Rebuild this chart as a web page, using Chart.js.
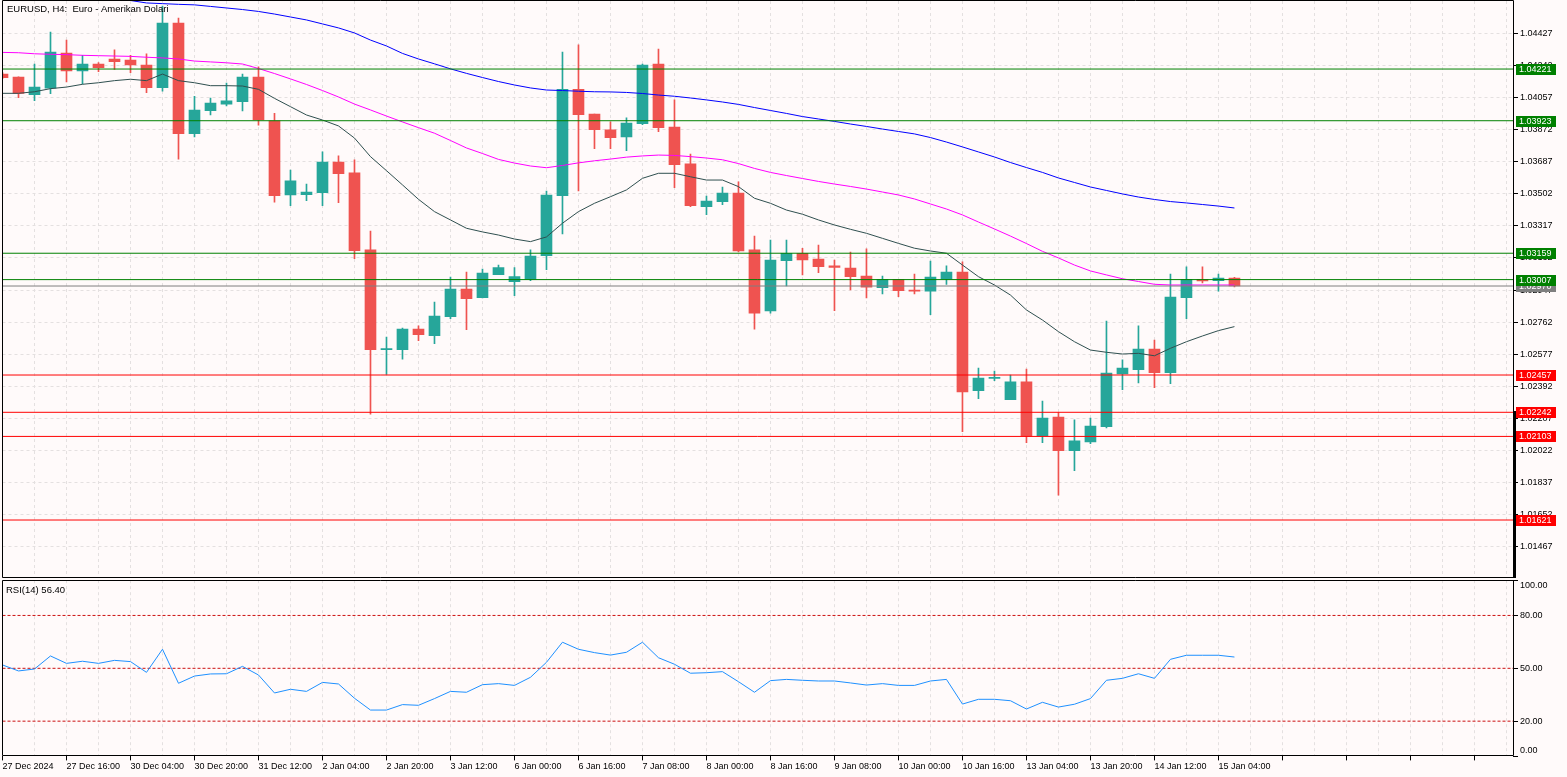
<!DOCTYPE html>
<html><head><meta charset="utf-8">
<script src="https://cdn.jsdelivr.net/npm/chart.js@4.4.1/dist/chart.umd.min.js"></script>
<style>
html,body{margin:0;padding:0;background:#fffafa;width:1567px;height:777px;overflow:hidden}
canvas{position:absolute;left:0}
#c1{top:0}
#c2{top:579px}
</style></head><body>
<canvas id="c1" width="1567" height="579"></canvas>
<canvas id="c2" width="1567" height="198"></canvas>
<script>
// ---------- DATA ----------
const chartTitle = 'EURUSD, H4:  Euro - Amerikan Dolari';
const rsiTitle = 'RSI(14) 56.40';
const xLabels = ['27 Dec 2024','27 Dec 16:00','30 Dec 04:00','30 Dec 20:00','31 Dec 12:00','2 Jan 04:00','2 Jan 20:00','3 Jan 12:00','6 Jan 00:00','6 Jan 16:00','7 Jan 08:00','8 Jan 00:00','8 Jan 16:00','9 Jan 08:00','10 Jan 00:00','10 Jan 16:00','13 Jan 04:00','13 Jan 20:00','14 Jan 12:00','15 Jan 04:00'];
const opens = [1.04192,1.04175,1.04073,1.04110,1.04313,1.04210,1.04250,1.04279,1.04273,1.04244,
 1.04113,1.04486,1.03848,1.03981,1.04019,1.04033,1.04175,1.03923,1.03495,1.03497,
 1.03508,1.03685,1.03622,1.03178,1.02603,1.02603,1.02722,1.02684,1.02793,1.02953,
 1.02903,1.03035,1.02995,1.03009,1.03145,1.03491,1.04104,1.03962,1.03870,1.03829,
 1.03906,1.04250,1.03887,1.03674,1.03427,1.03456,1.03506,1.03178,1.02826,1.03116,
 1.03159,1.03126,1.03087,1.03074,1.03028,1.02960,1.03009,1.02947,1.02941,1.03009,
 1.03051,1.02367,1.02438,1.02315,1.02417,1.02106,1.02215,1.02021,1.02071,1.02159,
 1.02463,1.02488,1.02607,1.02470,1.02903,1.03009,1.03001,1.03016];
const highs = [1.04200,1.04176,1.04250,1.04434,1.04388,1.04300,1.04258,1.04331,1.04300,1.04308,
 1.04584,1.04515,1.04064,1.04054,1.04140,1.04192,1.04234,1.03966,1.03639,1.03558,
 1.03743,1.03720,1.03697,1.03287,1.02676,1.02728,1.02740,1.02878,1.03022,1.03051,
 1.03068,1.03091,1.03076,1.03178,1.03518,1.04319,1.04360,1.03962,1.03917,1.03939,
 1.04250,1.04336,1.04043,1.03731,1.03489,1.03541,1.03570,1.03258,1.03235,1.03235,
 1.03188,1.03206,1.03120,1.03166,1.03184,1.03028,1.03009,1.03039,1.03114,1.03086,
 1.03109,1.02497,1.02480,1.02457,1.02491,1.02307,1.02240,1.02198,1.02209,1.02768,
 1.02545,1.02740,1.02659,1.03039,1.03080,1.03080,1.03039,1.03020];
const lows = [1.04165,1.04056,1.04038,1.04079,1.04146,1.04135,1.04206,1.04219,1.04200,1.04085,
 1.04094,1.03702,1.03829,1.03956,1.04008,1.03979,1.03898,1.03454,1.03433,1.03462,
 1.03433,1.03450,1.03128,1.02231,1.02461,1.02549,1.02655,1.02638,1.02782,1.02718,
 1.02901,1.03035,1.02914,1.03001,1.03064,1.03270,1.03518,1.03762,1.03762,1.03750,
 1.03900,1.03860,1.03537,1.03427,1.03381,1.03439,1.03166,1.02722,1.02814,1.02970,
 1.03034,1.03047,1.02828,1.02947,1.02901,1.02924,1.02909,1.02924,1.02805,1.02980,
 1.02130,1.02320,1.02424,1.02315,1.02067,1.02067,1.01765,1.01905,1.02061,1.02152,
 1.02372,1.02411,1.02384,1.02407,1.02782,1.02988,1.02941,1.02965];
const closes = [1.04171,1.04081,1.04117,1.04319,1.04210,1.04250,1.04229,1.04263,1.04244,1.04113,
 1.04486,1.03848,1.03985,1.04025,1.04037,1.04175,1.03927,1.03491,1.03576,1.03512,
 1.03685,1.03618,1.03174,1.02603,1.02607,1.02722,1.02689,1.02797,1.02953,1.02897,
 1.03045,1.03076,1.03024,1.03143,1.03495,1.04104,1.03958,1.03871,1.03825,1.03910,
 1.04244,1.03883,1.03670,1.03433,1.03460,1.03506,1.03172,1.02814,1.03120,1.03159,
 1.03120,1.03081,1.03078,1.03024,1.02964,1.03009,1.02943,1.02941,1.03022,1.03051,
 1.02359,1.02440,1.02442,1.02417,1.02104,1.02209,1.02021,1.02077,1.02163,1.02468,
 1.02497,1.02607,1.02470,1.02907,1.03009,1.02999,1.03016,1.02970];
const maFast = [1.04081,1.04081,1.04090,1.04108,1.04117,1.04133,1.04142,1.04154,1.04162,1.04154,
 1.04192,1.04154,1.04142,1.04125,1.04125,1.04123,1.04104,1.04052,1.04004,1.03956,
 1.03927,1.03893,1.03823,1.03716,1.03635,1.03553,1.03470,1.03399,1.03351,1.03303,
 1.03282,1.03264,1.03241,1.03226,1.03253,1.03332,1.03399,1.03447,1.03485,1.03524,
 1.03591,1.03620,1.03620,1.03600,1.03581,1.03581,1.03543,1.03476,1.03447,1.03408,
 1.03384,1.03351,1.03322,1.03297,1.03274,1.03245,1.03216,1.03188,1.03172,1.03159,
 1.03091,1.03024,1.02976,1.02918,1.02832,1.02774,1.02707,1.02649,1.02601,1.02588,
 1.02578,1.02582,1.02568,1.02611,1.02649,1.02682,1.02713,1.02736];
const maMid = [1.04317,1.04315,1.04309,1.04306,1.04304,1.04300,1.04298,1.04296,1.04294,1.04289,
 1.04285,1.04279,1.04267,1.04262,1.04257,1.04250,1.04224,1.04195,1.04164,1.04132,
 1.04097,1.04060,1.04019,1.03985,1.03950,1.03916,1.03883,1.03851,1.03809,1.03766,
 1.03734,1.03700,1.03679,1.03662,1.03652,1.03665,1.03680,1.03692,1.03702,1.03713,
 1.03720,1.03725,1.03723,1.03716,1.03708,1.03698,1.03676,1.03648,1.03625,1.03607,
 1.03590,1.03573,1.03558,1.03544,1.03529,1.03512,1.03495,1.03472,1.03443,1.03414,
 1.03380,1.03339,1.03299,1.03258,1.03215,1.03170,1.03132,1.03091,1.03057,1.03034,
 1.03012,1.02996,1.02980,1.02976,1.02976,1.02976,1.02976,1.02976];
const maSlow = [1.04792,1.04769,1.04746,1.04723,1.04703,1.04682,1.04662,1.04639,1.04616,1.04602,
 1.04598,1.04594,1.04591,1.04582,1.04573,1.04564,1.04553,1.04538,1.04521,1.04504,
 1.04481,1.04458,1.04429,1.04388,1.04354,1.04311,1.04279,1.04251,1.04222,1.04196,
 1.04172,1.04149,1.04129,1.04112,1.04100,1.04097,1.04093,1.04090,1.04089,1.04086,
 1.04080,1.04071,1.04064,1.04054,1.04043,1.04031,1.04017,1.03999,1.03982,1.03965,
 1.03947,1.03933,1.03919,1.03904,1.03890,1.03875,1.03861,1.03847,1.03826,1.03800,
 1.03772,1.03743,1.03714,1.03682,1.03653,1.03625,1.03593,1.03567,1.03541,1.03521,
 1.03501,1.03483,1.03469,1.03457,1.03449,1.03440,1.03431,1.03420];
const rsiValues = [51.9,48.5,49.6,57.0,52.8,54.0,52.8,54.5,53.8,47.7,
 60.8,41.5,45.6,46.8,46.9,51.1,46.2,36.0,38.1,36.9,
 42.0,41.1,33.0,26.3,26.3,29.4,29.0,32.8,36.9,36.4,
 40.7,41.3,40.3,44.9,53.4,64.8,60.8,58.9,57.5,59.1,
 64.8,56.0,52.3,47.2,47.5,48.1,42.4,36.4,43.0,43.7,
 43.2,42.8,42.8,41.7,40.5,41.3,40.3,40.3,42.8,43.7,
 29.7,32.4,32.4,31.6,26.9,30.7,28.0,29.6,32.8,43.2,
 44.3,46.9,44.3,55.1,57.4,57.4,57.4,56.4];
const priceTicks = [1.04427,1.04242,1.04057,1.03872,1.03687,1.03502,1.03317,1.03132,1.02947,1.02762,1.02577,1.02392,1.02207,1.02022,1.01837,1.01652,1.01467];
const rsiTicks = [0,20,50,80,100];
const rsiLevels = [20,50,80];
const greenLevels = [1.04221,1.03923,1.03159,1.03007];
const redLevels = [1.02457,1.02242,1.02103,1.01621];
const lastPrice = 1.02970;

// ---------- STYLE ----------
const BG = '#fffafa';
const GRID = '#e4e0e0';
const UP = '#26a69a', DOWN = '#ef5350';
const X_MIN = 0, X_MAX = 94.41;
const Y_MIN = 1.012868, Y_MAX = 1.046132;
const FONT = '"Liberation Sans", Arial, sans-serif';
Chart.defaults.font.family = FONT;
Chart.defaults.font.size = 9;
Chart.defaults.color = '#000';

const xTickVals = [];
for (let v = 0; v <= 94; v += 2) xTickVals.push(v);
const xLabelFor = v => (v % 4 === 0 && xLabels[v / 4] !== undefined) ? xLabels[v / 4] : '';
const noPad = s => { s.paddingTop = 0; s.paddingBottom = 0; s.paddingLeft = 0; s.paddingRight = 0; };

const idx = opens.map((_, i) => i);
const isUp = idx.map(i => closes[i] >= opens[i]);
const candleColors = isUp.map(u => u ? UP : DOWN);

function hLine(v, color, order, dash) {
  return { type: 'line', data: [{x: X_MIN, y: v}, {x: X_MAX, y: v}], borderColor: color, borderWidth: 1,
    borderDash: dash || [], pointRadius: 0, order: order, clip: 0 };
}
function maLine(arr, color) {
  return { type: 'line', data: arr.map((v, i) => ({x: i, y: v})), borderColor: color, borderWidth: 1,
    pointRadius: 0, tension: 0, order: 1, clip: 0 };
}

const mainDatasets = [
  hLine(lastPrice, '#7f7f7f', 0),
  ...greenLevels.map(v => hLine(v, '#008000', 0)),
  ...redLevels.map(v => hLine(v, '#ff0000', 0)),
  maLine(maFast, '#2f4f4f'),
  maLine(maMid, '#ff00ff'),
  maLine(maSlow, '#0000ff'),
  { type: 'bar', data: idx.map(i => ({x: i, y: [opens[i], closes[i]]})), backgroundColor: candleColors,
    borderWidth: 0, barThickness: 11, minBarLength: 1, grouped: false, order: 2, clip: 0 },
  { type: 'bar', data: idx.map(i => ({x: i, y: [lows[i], highs[i]]})), backgroundColor: candleColors,
    borderWidth: 0, barThickness: 1, minBarLength: 1, grouped: false, order: 3, clip: 0 }
];

const mainDeco = {
  id: 'mainDeco',
  beforeDraw(chart) { const c = chart.ctx; c.save(); c.fillStyle = BG; c.fillRect(0, 0, chart.width, chart.height); c.restore(); },
  afterDraw(chart) {
    const c = chart.ctx, a = chart.chartArea, ys = chart.scales.y;
    c.save();
    c.strokeStyle = '#000'; c.lineWidth = 1;
    const L = Math.floor(a.left) + 0.5, R = Math.round(a.right) + 0.5, T = Math.round(a.top) - 0.5, B = Math.round(a.bottom) - 0.5;
    c.beginPath(); c.moveTo(L, T); c.lineTo(R, T); c.lineTo(R, B); c.lineTo(L, B); c.closePath(); c.stroke();
    c.fillStyle = '#000';
    c.fillRect(Math.round(a.right), 411, 3, Math.round(a.bottom) - 411);
    c.font = '9.5px ' + FONT; c.textBaseline = 'middle'; c.textAlign = 'left';
    c.fillText(chartTitle, 7, 9.5);
    const boxes = [[lastPrice, '#7f7f7f']].concat(greenLevels.map(v => [v, '#008000']), redLevels.map(v => [v, '#ff0000']));
    c.font = '9px ' + FONT;
    boxes.forEach(([v, col]) => {
      const py = Math.round(ys.getPixelForValue(v));
      c.fillStyle = col; c.fillRect(Math.round(a.right) + 3, py - 5, 40, 11);
      c.fillStyle = '#fff'; c.fillText(v.toFixed(5), Math.round(a.right) + 6, py + 0.5);
    });
    c.restore();
  }
};

new Chart(document.getElementById('c1'), {
  type: 'bar',
  data: { datasets: mainDatasets },
  options: {
    responsive: false, animation: false, events: [],
    layout: { padding: { left: 2.5, top: 1, right: 0, bottom: 1 } },
    plugins: { legend: { display: false }, tooltip: { enabled: false } },
    scales: {
      x: { type: 'linear', min: X_MIN, max: X_MAX, offset: false,
        afterBuildTicks: s => { s.ticks = xTickVals.map(v => ({value: v})); },
        afterFit: s => { noPad(s); s.height = 0; },
        ticks: { display: false },
        grid: { color: GRID, drawTicks: false, offset: false },
        border: { display: false, dash: [3, 3] } },
      y: { type: 'linear', position: 'right', min: Y_MIN, max: Y_MAX,
        afterBuildTicks: s => { s.ticks = priceTicks.map(v => ({value: v})); },
        afterFit: s => { noPad(s); s.width = 54; },
        ticks: { callback: v => Number(v).toFixed(5), padding: 2, autoSkip: false },
        grid: { color: GRID, tickColor: '#000', tickLength: 5, tickBorderDash: [] },
        border: { display: false, dash: [3, 3] } }
    }
  },
  plugins: [mainDeco]
});

// ---------- RSI ----------
const rsiDeco = {
  id: 'rsiDeco',
  beforeDraw(chart) { const c = chart.ctx; c.save(); c.fillStyle = BG; c.fillRect(0, 0, chart.width, chart.height); c.restore(); },
  afterDraw(chart) {
    const c = chart.ctx, a = chart.chartArea, ys = chart.scales.y;
    c.save();
    c.strokeStyle = '#000'; c.lineWidth = 1;
    const L = Math.floor(a.left) + 0.5, R = Math.round(a.right) + 0.5, T = Math.round(a.top) + 0.5, B = Math.round(a.bottom) - 0.5;
    c.beginPath(); c.moveTo(L, T); c.lineTo(R, T); c.lineTo(R, B); c.lineTo(L, B); c.closePath(); c.stroke();
    c.fillStyle = '#000'; c.textBaseline = 'middle'; c.textAlign = 'left';
    c.font = '9.5px ' + FONT;
    c.fillText(rsiTitle, 6, 11);
    c.font = '9px ' + FONT;
    c.fillText((100).toFixed(2), Math.round(a.right) + 7, ys.getPixelForValue(100) + 5.5);
    c.fillText((0).toFixed(2), Math.round(a.right) + 7, ys.getPixelForValue(0) - 5.5);
    c.restore();
  }
};

new Chart(document.getElementById('c2'), {
  type: 'line',
  data: { datasets: [
    { data: rsiValues.map((v, i) => ({x: i, y: v})), borderColor: '#1e90ff', borderWidth: 1, pointRadius: 0, tension: 0, order: 0, clip: 0 },
    ...rsiLevels.map(v => hLine(v, '#cc1111', 1, [3, 2]))
  ] },
  options: {
    responsive: false, animation: false, events: [],
    layout: { padding: { left: 2.5, top: 1.2, right: 0, bottom: 0 } },
    plugins: { legend: { display: false }, tooltip: { enabled: false } },
    scales: {
      x: { type: 'linear', min: X_MIN, max: X_MAX, offset: false,
        afterBuildTicks: s => { s.ticks = xTickVals.map(v => ({value: v})); },
        afterFit: s => { noPad(s); s.height = 20.6; },
        ticks: { callback: v => xLabelFor(v), autoSkip: false, maxRotation: 0, minRotation: 0, align: 'start', padding: 1 },
        grid: { color: GRID, tickLength: 4, offset: false, tickBorderDash: [],
          tickColor: ctx => (ctx.tick && ctx.tick.value % 4 === 0) ? '#000' : 'rgba(0,0,0,0)' },
        border: { display: false, dash: [3, 3] } },
      y: { type: 'linear', position: 'right', min: 0, max: 100,
        afterBuildTicks: s => { s.ticks = rsiTicks.map(v => ({value: v})); },
        afterFit: s => { noPad(s); s.width = 54; },
        ticks: { callback: v => (v === 0 || v === 100) ? '' : Number(v).toFixed(2), padding: 2, autoSkip: false },
        grid: { drawOnChartArea: false, tickColor: '#000', tickLength: 5, tickBorderDash: [] },
        border: { display: false } }
    }
  },
  plugins: [rsiDeco]
});
</script>
</body></html>
